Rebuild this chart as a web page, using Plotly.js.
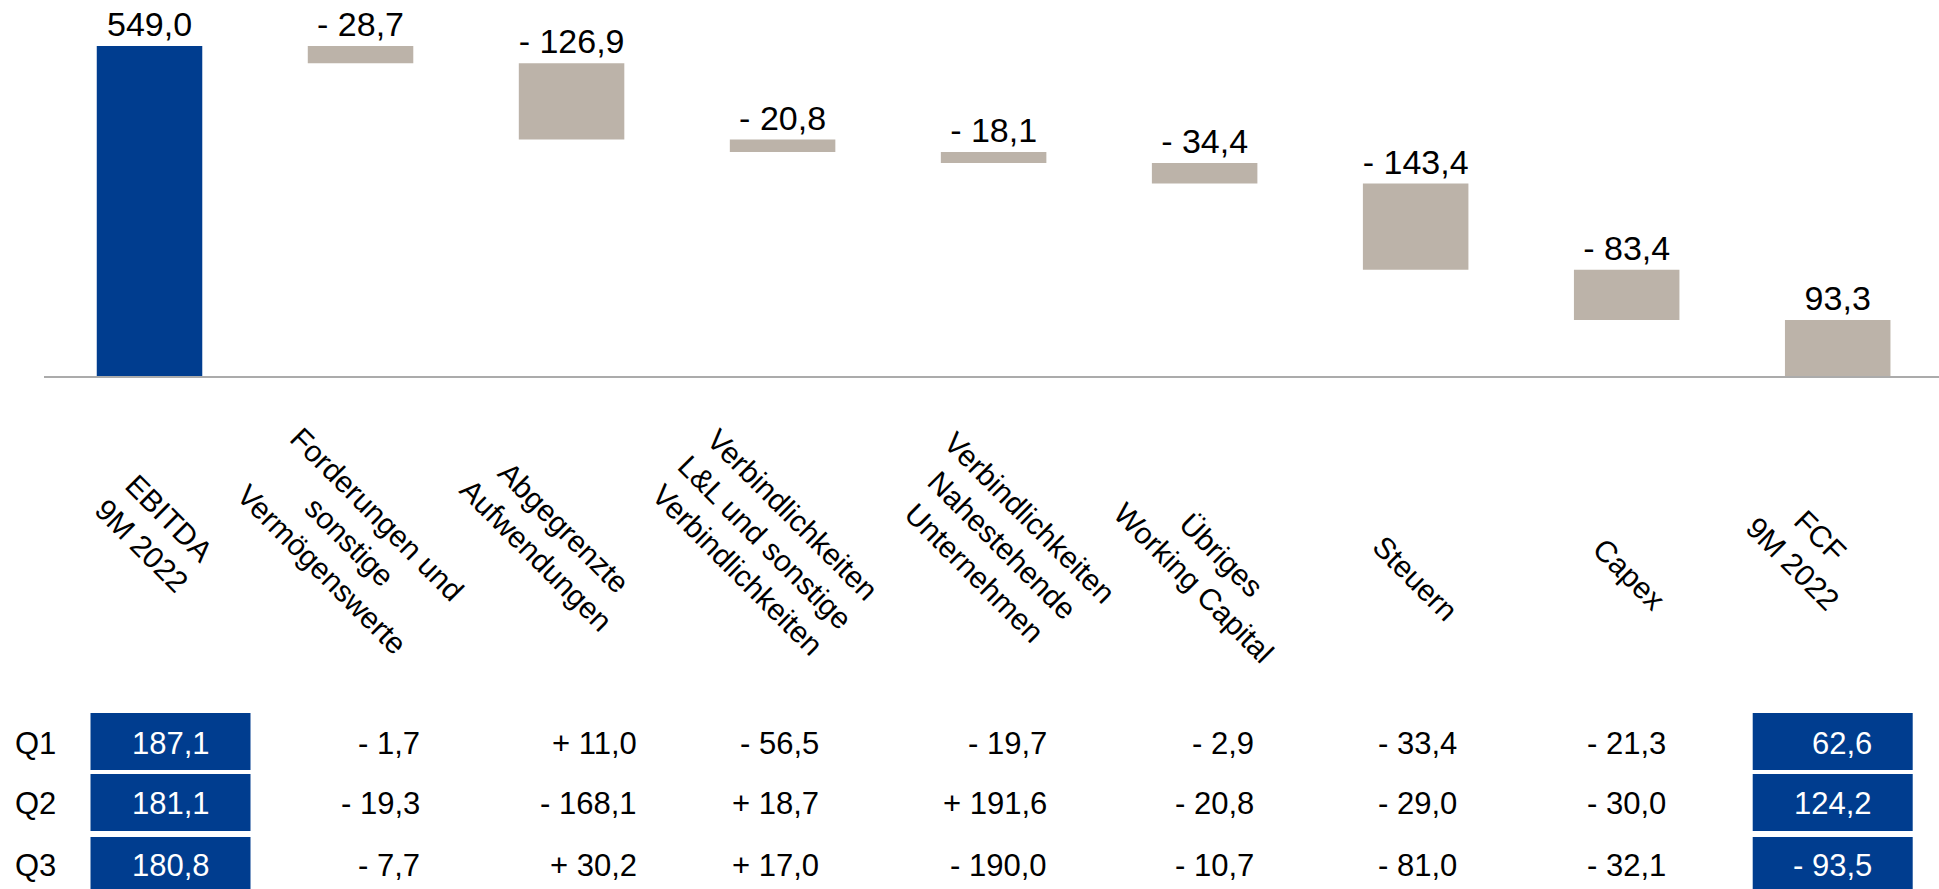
<!DOCTYPE html>
<html><head><meta charset="utf-8">
<script src="https://cdn.plot.ly/plotly-3.0.1.min.js"></script>
<style>html,body{margin:0;padding:0;background:#fff}#chart{width:1939px;height:889px}</style>
</head><body><div id="chart"></div>
<script>
// ---- data ----
const categories = [
  'EBITDA<br>9M 2022',
  'Forderungen und<br>sonstige<br>Vermögenswerte',
  'Abgegrenzte<br>Aufwendungen',
  'Verbindlichkeiten<br>L&L und sonstige<br>Verbindlichkeiten',
  'Verbindlichkeiten<br>Nahestehende<br>Unternehmen',
  'Übriges<br>Working Capital',
  'Steuern',
  'Capex',
  'FCF<br>9M 2022'
];
const values = [549.0, -28.7, -126.9, -20.8, -18.1, -34.4, -143.4, -83.4, 93.3];
const measures = ['absolute','relative','relative','relative','relative','relative','relative','relative','total'];
const quarterLabels = ['Q1', 'Q2', 'Q3'];
const q1 = [187.1, -1.7, 11.0, -56.5, -19.7, -2.9, -33.4, -21.3, 62.6];
const q2 = [181.1, -19.3, -168.1, 18.7, 191.6, -20.8, -29.0, -30.0, 124.2];
const q3 = [180.8, -7.7, 30.2, 17.0, -190.0, -10.7, -81.0, -32.1, -93.5];
const quarters = [q1, q2, q3];
const boxedColumns = [0, 8];

// ---- layout helpers (positions / styles) ----
const BLUE = '#003D8F', GREY = '#BCB3A9';
const FONT = 'Liberation Sans, Arial, Helvetica, sans-serif';
const BASE_PX = 376;               // pixel row of the zero line (plot bottom)
const labelDx = [6, -11, -22, -17, 9, 3, 0, 3, -31];
const labelCy = [532, 541, 541, 542, 545, 569, 578, 574, 550];
const colRightShift = [0, 61, 67, 38, 55, 51, 43, 41, 0];
const boxCenterShift = {0: 21, 8: -5};
const boxTextAnchor = {0: 'center', 8: 'right'};
const boxTextShift = {0: 21, 8: 36};
const boxHalfW = 80;
const rowCy = [743, 803, 865];
const boxTop = [713, 774, 837];
const boxH = 57;

const fmt = v => Math.abs(v).toFixed(1).replace('.', ',');
const sgn = v => (v < 0 ? '- ' : '') + fmt(v);
const sgnPlus = v => (v < 0 ? '- ' : '+ ') + fmt(v);

let run = 0;
const bases = [], heights = [], colors = [];
values.forEach((v, i) => {
  const m = measures[i];
  if (m === 'absolute') { bases.push(0); heights.push(v); run = v; colors.push(BLUE); }
  else if (m === 'total') { bases.push(0); heights.push(v); colors.push(GREY); }
  else {
    if (v < 0) { bases.push(run + v); heights.push(-v); }
    else { bases.push(run); heights.push(v); }
    run += v; colors.push(GREY);
  }
});

const trace = {
  type: 'bar',
  x: categories,
  y: heights,
  base: bases,
  marker: {color: colors, line: {width: 0}},
  text: values.map(sgn),
  textposition: 'outside',
  textfont: {family: FONT, size: 34, color: '#000'},
  constraintext: 'none',
  cliponaxis: false,
  hoverinfo: 'skip'
};

const annotations = [];
const shapes = [];

// category labels
categories.forEach((c, i) => {
  annotations.push({
    x: c, xref: 'x', y: 0, yref: 'paper',
    xshift: labelDx[i], yshift: BASE_PX - labelCy[i],
    xanchor: 'center', yanchor: 'middle',
    text: c, textangle: 45, align: 'center', showarrow: false,
    font: {family: FONT, size: 30, color: '#000'}
  });
});

// table
quarters.forEach((row, r) => {
  annotations.push({
    x: 0, xref: 'paper', y: 0, yref: 'paper',
    xshift: -31, yshift: BASE_PX - rowCy[r],
    xanchor: 'left', yanchor: 'middle',
    text: quarterLabels[r], showarrow: false,
    font: {family: FONT, size: 31, color: '#000'}
  });
  row.forEach((v, i) => {
    const boxed = boxedColumns.includes(i);
    if (boxed) {
      const cs = boxCenterShift[i];
      shapes.push({
        type: 'rect', xref: 'x', yref: 'paper',
        xsizemode: 'pixel', ysizemode: 'pixel',
        xanchor: categories[i], yanchor: 0,
        x0: cs - boxHalfW, x1: cs + boxHalfW,
        y0: BASE_PX - (boxTop[r] + boxH), y1: BASE_PX - boxTop[r],
        fillcolor: BLUE, line: {width: 0}, layer: 'below'
      });
      annotations.push({
        x: categories[i], xref: 'x', y: 0, yref: 'paper',
        xshift: boxTextShift[i], yshift: BASE_PX - rowCy[r],
        xanchor: boxTextAnchor[i], yanchor: 'middle',
        text: sgn(v), showarrow: false,
        font: {family: FONT, size: 31, color: '#fff'}
      });
    } else {
      annotations.push({
        x: categories[i], xref: 'x', y: 0, yref: 'paper',
        xshift: colRightShift[i], yshift: BASE_PX - rowCy[r],
        xanchor: 'right', yanchor: 'middle',
        text: sgnPlus(v), showarrow: false,
        font: {family: FONT, size: 31, color: '#000'}
      });
    }
  });
});

const layout = {
  width: 1939, height: 889,
  margin: {l: 44, r: 0, t: 0, b: 889 - BASE_PX, pad: 0},
  paper_bgcolor: '#fff', plot_bgcolor: '#fff',
  showlegend: false,
  bargap: 0.5,
  xaxis: {
    type: 'category', range: [-0.5, 8.48],
    showticklabels: false, ticks: '', showgrid: false, zeroline: false,
    showline: true, linecolor: '#ABABAB', linewidth: 2, fixedrange: true
  },
  yaxis: {
    range: [0, 625.5], visible: false, showgrid: false, zeroline: false, fixedrange: true
  },
  annotations: annotations,
  shapes: shapes
};

Plotly.newPlot('chart', [trace], layout, {displayModeBar: false, staticPlot: true});
</script>
</body></html>
